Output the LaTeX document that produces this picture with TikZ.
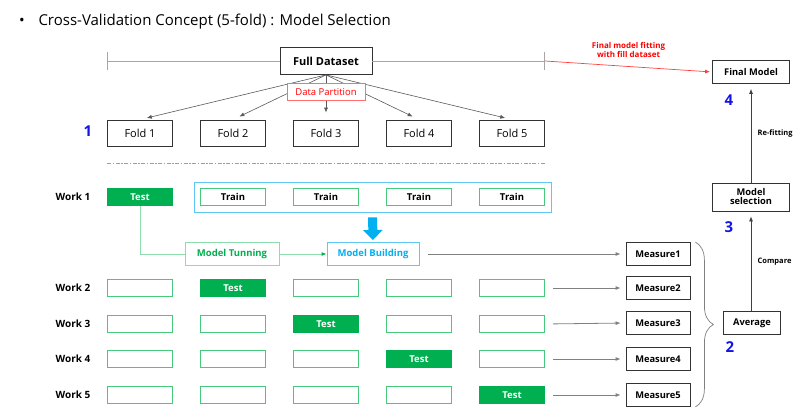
\documentclass[tikz,border=0pt]{standalone}
\usepackage{fontspec}
\setmainfont{Open Sans}
\usepackage{tikz}
\usetikzlibrary{arrows.meta, positioning, fit, calc, decorations.pathreplacing}
\definecolor{testgreen}{HTML}{00B050}
\definecolor{gridgreen}{RGB}{70,200,125}
\definecolor{tunegreen}{RGB}{140,222,172}
\definecolor{skyblue}{HTML}{00B0F0}
\definecolor{skyline}{RGB}{95,200,242}
\definecolor{partred}{RGB}{255,110,110}
\definecolor{seppink}{RGB}{255,115,115}
\definecolor{numblue}{RGB}{20,20,230}
\tikzset{
  plain_box/.style={rectangle, draw=black!80, fill=white, line width=0.8pt, inner sep=0pt},
  full_box/.style={plain_box, minimum width=92pt, minimum height=27pt, font=\fontsize{11}{13}\selectfont\bfseries},
  fold_box/.style={plain_box, minimum width=65pt, minimum height=26pt, font=\fontsize{11}{13}\selectfont},
  partition_box/.style={rectangle, draw=partred, fill=white, text=red, line width=0.8pt, minimum width=78pt, minimum height=17pt, inner sep=0pt, font=\fontsize{9.5}{11}\selectfont},
  cell_box/.style={rectangle, draw=gridgreen, fill=white, line width=0.9pt, minimum width=65pt, minimum height=17pt, inner sep=0pt, font=\fontsize{9.5}{11}\selectfont\bfseries},
  test_box/.style={cell_box, fill=testgreen, draw=testgreen, text=white},
  train_frame/.style={rectangle, draw=skyline, line width=0.9pt, inner sep=6pt},
  tune_box/.style={rectangle, draw=tunegreen, fill=white, text=testgreen, line width=0.9pt, minimum width=94pt, minimum height=23pt, inner sep=0pt, font=\fontsize{9.5}{11}\selectfont\bfseries},
  build_box/.style={tune_box, draw=skyline, text=skyblue, minimum width=92pt},
  measure_box/.style={plain_box, minimum width=64pt, minimum height=23pt, font=\fontsize{9.3}{11}\selectfont\bfseries},
  result_box/.style={plain_box, minimum height=23pt, font=\fontsize{9.3}{11}\selectfont\bfseries, align=center},
  work_label/.style={font=\fontsize{10}{12}\selectfont\bfseries},
  title_text/.style={font=\fontsize{15}{18}\selectfont},
  num_label/.style={text=numblue, font=\fontsize{15}{17}\selectfont\bfseries},
  edge_label/.style={font=\fontsize{7.5}{9}\selectfont\bfseries},
  fit_label/.style={text=red, align=center, font=\fontsize{8}{9.5}\selectfont\bfseries},
  span_line/.style={-, draw=black!35, line width=1pt},
  part_arrow/.style={-{Latex[length=5pt,width=4pt]}, draw=black!65, line width=0.6pt, shorten >=7pt},
  sep_line/.style={-, draw=seppink, dash pattern=on 4pt off 1.5pt on 1.5pt off 1.5pt, line width=1pt},
  tune_line/.style={-, draw=tunegreen, line width=0.9pt},
  tune_arrow/.style={draw=tunegreen, line width=0.9pt, -{Latex[length=5pt,width=4pt,color=testgreen]}},
  block_arrow/.style={-{Triangle[length=10pt,width=19pt]}, draw=skyblue, line width=9pt},
  measure_arrow/.style={-{Latex[length=5pt,width=4pt]}, draw=black!50, line width=0.8pt, shorten >=5pt},
  arrow/.style={-{Latex[length=5pt,width=4pt]}, draw=black!75, line width=0.7pt, shorten >=5pt},
  fit_arrow/.style={-{Latex[length=5pt,width=4pt]}, draw=red!75, line width=0.7pt, shorten >=2pt},
  brace_line/.style={decorate, decoration={brace, amplitude=18pt}, draw=black!50, line width=0.7pt}
}

\begin{document}
\begin{tikzpicture}[x=1pt, y=-1pt]
  \useasboundingbox (0,0) rectangle (800,416);

  % --- 1. Title ---
  \node[title_text] (bullet) at (22,22) {\textbullet};
  \node[title_text, anchor=west] (title) at (35,22) {Cross-Validation Concept (5-fold) : Model Selection};

  % --- 2. Full dataset split into folds ---
  \node[full_box] (full) at (326,61) {Full Dataset};
  \coordinate (spanL) at (107,61);
  \coordinate (spanR) at (545,61);
  \draw[span_line, {Bar[width=18pt]}-] (spanL) -- (full.west);
  \draw[span_line, -{Bar[width=18pt]}] (full.east) -- (spanR);

  \foreach \i/\x in {1/140, 2/233, 3/326, 4/419, 5/512} {
    \node[fold_box] (fold\i) at (\x,133) {Fold \i};
    \draw[part_arrow] (full.south) -- (fold\i.north);
  }
  % partition label sits on top of the arrows
  \node[partition_box] (part) at (326,92) {Data Partition};

  % separator between folds and work rows
  \coordinate (sepL) at (107,163.5);
  \coordinate (sepR) at (545,163.5);
  \draw[sep_line] (sepL) -- (sepR);

  % --- 3. Work rows (Test / Train cells) ---
  \foreach \r/\y in {1/197, 2/288, 3/324, 4/359, 5/395} {
    \node[work_label] (work\r) at (73,\y) {Work \r};
    \foreach \c/\x in {1/140, 2/233, 3/326, 4/419, 5/512} {
      \ifnum\c=\r
        \node[test_box] (cell\r\c) at (\x,\y) {Test};
      \else\ifnum\r=1
        \node[cell_box] (cell\r\c) at (\x,\y) {Train};
      \else
        \node[cell_box] (cell\r\c) at (\x,\y) {};
      \fi\fi
    }
  }
  \node[train_frame, fit=(cell12)(cell15)] (trainset) {};

  % --- 4. Tuning and building ---
  \node[tune_box] (tune) at (232,254) {Model Tunning};
  \node[build_box] (build) at (373,254) {Model Building};
  \draw[tune_line] (cell11.south) |- (tune.west);
  \draw[tune_arrow] (tune.east) -- (build.west);
  \draw[block_arrow, shorten <=5pt, shorten >=2pt] (trainset.south) -- (build.north);

  % --- 5. Measures ---
  \foreach \r/\y in {1/254, 2/288, 3/323, 4/359, 5/395} {
    \node[measure_box] (measure\r) at (658,\y) {Measure\r};
  }
  \draw[measure_arrow, shorten <=9pt] (build.east) -- (measure1.west);
  \foreach \r in {2,...,5} {
    \draw[measure_arrow, shorten <=8pt] (cell\r5.east) -- (measure\r.west);
  }
  \draw[brace_line] ([xshift=5pt]measure1.north east) -- ([xshift=5pt]measure5.south east);

  % --- 6. Selection column ---
  \node[result_box, minimum width=57pt] (avg) at (752,323) {Average};
  \node[result_box, minimum width=77pt, minimum height=28pt] (select) at (751,197) {Model\\[-2pt]selection};
  \node[result_box, minimum width=77pt] (final) at (751,72) {Final Model};
  \draw[arrow] (avg.north -| select.south) -- node[edge_label, right=3pt] {Compare} (select.south);
  \draw[arrow] (select.north) -- node[edge_label, right=3pt] {Re-fitting} (final.south);
  \draw[fit_arrow] (spanR) -- node[fit_label, above=5pt] {Final model fitting\\with fill dataset} (final.west);

  % --- 7. Step numbers ---
  \node[num_label] (num1) at (88,131) {1};
  \node[num_label] (num2) at (730,347) {2};
  \node[num_label] (num3) at (729,227) {3};
  \node[num_label] (num4) at (729,100) {4};
\end{tikzpicture}
\end{document}
